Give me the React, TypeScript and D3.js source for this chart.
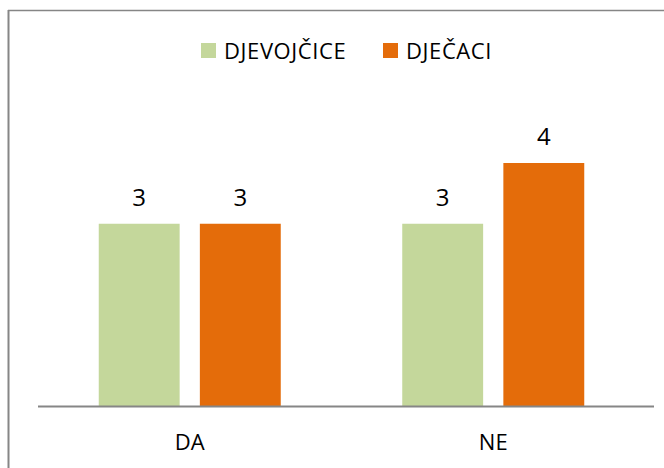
import React from "react";
import * as d3 from "d3";

const categories = ["DA", "NE"];
const seriesNames = ["DJEVOJČICE", "DJEČACI"];
const djevojcice = [3, 3];
const djecaci = [3, 4];
const colors = ["#C4D79B", "#E46C0A"];

const W = 664;
const H = 468;
const FONT = "'Open Sans', sans-serif";

export default function App() {
  const values = [djevojcice, djecaci];
  const x0 = d3.scaleBand<string>().domain(categories).range([38, 645]).paddingInner(0).paddingOuter(0);
  const x1 = d3
    .scaleBand<string>()
    .domain(seriesNames)
    .range([0, 182])
    .paddingInner(0.2)
    .paddingOuter(0);
  const y = d3.scaleLinear().domain([0, 6]).range([406, 41.5]);
  const groupOffset = (x0.bandwidth() - 182) / 2;

  return (
    <svg width={W} height={H} style={{ position: "absolute", left: 0, top: 0 }}>
      <rect x={0} y={0} width={W} height={H} fill="#fff" />
      <line x1={8.5} y1={10} x2={8.5} y2={H} stroke="#868686" strokeWidth={2} />
      <line x1={8} y1={10.5} x2={W} y2={10.5} stroke="#868686" strokeWidth={1.5} />
      {/* legend */}
      {seriesNames.map((s, i) => {
        const lx = [201, 383][i];
        return (
          <g key={s}>
            <rect x={lx} y={43} width={15} height={15} fill={colors[i]} />
            <text x={lx + 23} y={59} fontFamily={FONT} fontSize={22} letterSpacing={0.6} fill="#000">
              {s}
            </text>
          </g>
        );
      })}
      {/* bars */}
      {categories.map((c, ci) => (
        <g key={c} transform={`translate(${(x0(c) as number) + groupOffset},0)`}>
          {seriesNames.map((s, si) => {
            const v = values[si][ci];
            const bx = x1(s) as number;
            return (
              <g key={s}>
                <rect x={bx} y={y(v)} width={x1.bandwidth()} height={y(0) - y(v)} fill={colors[si]} />
                <text
                  x={bx + x1.bandwidth() / 2}
                  y={y(v) - 18}
                  textAnchor="middle"
                  fontFamily={FONT}
                  fontSize={24}
                  fill="#000"
                >
                  {v}
                </text>
              </g>
            );
          })}
          <text
            x={91}
            y={450}
            textAnchor="middle"
            fontFamily={FONT}
            fontSize={22}
            fill="#000"
          >
            {c}
          </text>
        </g>
      ))}
      <line x1={38} y1={406.5} x2={654} y2={406.5} stroke="#868686" strokeWidth={2} />
    </svg>
  );
}
